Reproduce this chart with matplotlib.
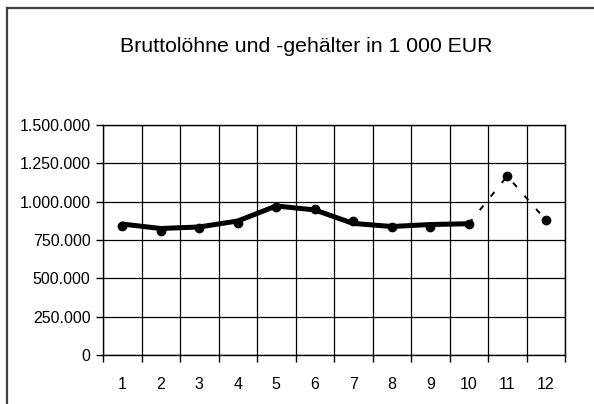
import matplotlib
matplotlib.use("Agg")
import matplotlib.pyplot as plt
from matplotlib.lines import Line2D
from matplotlib.ticker import FuncFormatter, FixedLocator

plt.rcParams['font.family'] = ['Liberation Sans', 'DejaVu Sans']

# Daten
monate = [1, 2, 3, 4, 5, 6, 7, 8, 9, 10, 11, 12]
werte = [841000, 811000, 828000, 863000, 967000, 950000, 874000, 837000, 837000, 856000, 1167000, 880000]
trend = [854000, 825000, 835000, 874000, 972000, 946000, 858000, 838000, 851000, 856000]
prognose_x = [10, 11, 12]
prognose = [856000, 1167000, 880000]

fig = plt.figure(figsize=(5.94, 4.04), dpi=100)
ax = fig.add_axes([103 / 594, 1 - 355 / 404, 462 / 594, 230 / 404])

# Rahmen (nur oben und links sichtbar)
fig.add_artist(Line2D([7 / 594, 1.01], [1 - 8 / 404, 1 - 8 / 404], color="#404040", lw=1.6))
fig.add_artist(Line2D([7 / 594, 7 / 594], [-0.01, 1 - 8 / 404], color="#404040", lw=1.6))

ax.plot(monate[:10], trend, color="black", lw=3.6, solid_capstyle="round", zorder=3)
ax.plot(prognose_x, prognose, color="black", lw=1.4, dashes=(3, 6), zorder=3)
ax.plot(monate, werte, "o", color="black", ms=6, zorder=4)

ax.set_xlim(0.5, 12.5)
ax.set_ylim(0, 1500000)
ax.set_yticks([0, 250000, 500000, 750000, 1000000, 1250000, 1500000])
ax.yaxis.set_major_formatter(FuncFormatter(lambda v, p: f"{int(v):,}".replace(",", ".")))
ax.set_xticks(monate)
ax.xaxis.set_minor_locator(FixedLocator([m + 0.5 for m in range(0, 13)]))
ax.tick_params(axis="x", which="major", length=0, labelsize=11.5, pad=16)
ax.tick_params(axis="x", which="minor", length=5, width=1, direction="out")
ax.tick_params(axis="y", length=5, width=1, direction="out", labelsize=11.5, pad=4)
ax.grid(True, axis="y", which="major", color="black", lw=0.9)
ax.grid(True, axis="x", which="minor", color="black", lw=0.9)
ax.set_axisbelow(True)
for s in ax.spines.values():
    s.set_color("black")
    s.set_linewidth(1.0)

fig.text(306 / 594, 1 - 47 / 404, "Bruttolöhne und -gehälter in 1 000 EUR",
         ha="center", va="center", fontsize=15.3)

fig.savefig("out.png", dpi=100)
